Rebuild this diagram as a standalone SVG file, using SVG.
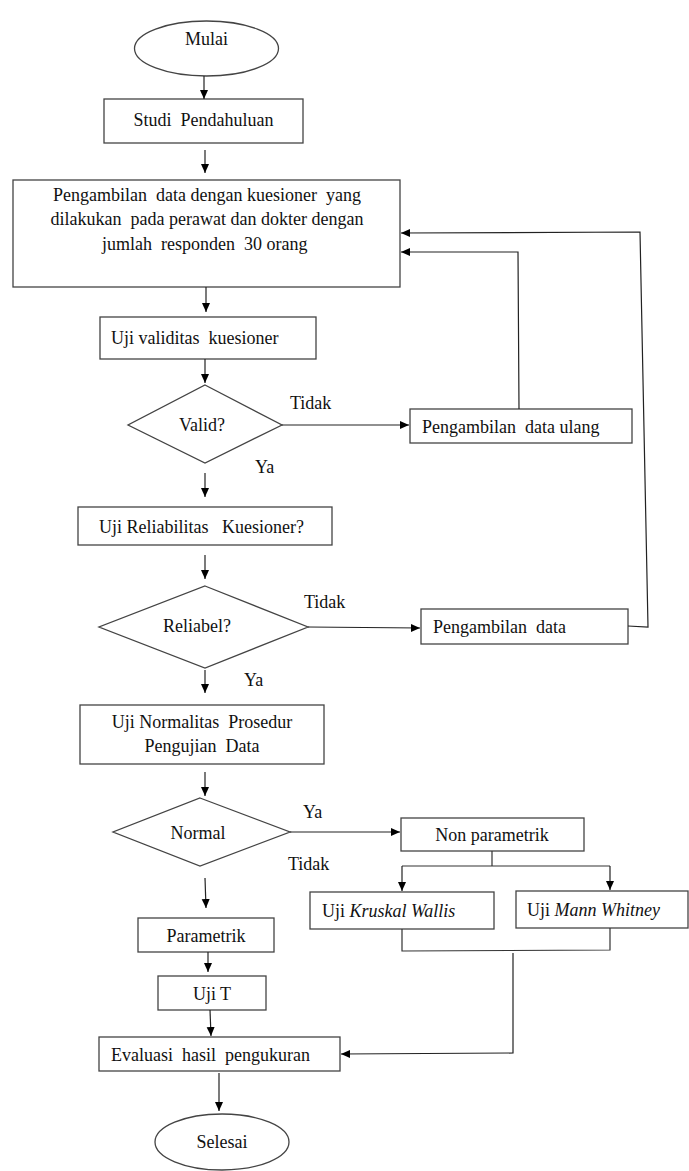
<svg xmlns="http://www.w3.org/2000/svg" width="689" height="1171" viewBox="0 0 689 1171">
<defs>
<marker id="ah" markerWidth="10" markerHeight="10" refX="9" refY="5" orient="auto" markerUnits="userSpaceOnUse">
<path d="M0,1 L9,5 L0,9 Z" fill="#000"/>
</marker>
<style>
.s{fill:#fff;stroke:#444;stroke-width:1.3}
.c{fill:none;stroke:#333;stroke-width:1.2}
.a{fill:none;stroke:#222;stroke-width:1.2;marker-end:url(#ah)}
text{white-space:pre;fill:#111;font-family:"Liberation Serif","DejaVu Serif",serif;font-size:18px}
.m{text-anchor:middle}
</style>
</defs>
<rect width="689" height="1171" fill="#fff"/>
<g id="mulai"><ellipse class="s" cx="206.5" cy="48.5" rx="72" ry="27.5"/><text class="m" x="206.5" y="45">Mulai</text></g>
<g id="studi"><rect class="s" x="104" y="99" width="199" height="44"/><text class="m" x="203.5" y="126">Studi  Pendahuluan</text></g>
<g id="pengambilan"><rect class="s" x="13" y="180" width="387" height="107"/>
<text class="m" x="207" y="201">Pengambilan  data dengan kuesioner  yang</text>
<text class="m" x="207" y="225">dilakukan  pada perawat dan dokter dengan</text>
<text x="102" y="250">jumlah  responden  30 orang</text></g>
<g id="validitas"><rect class="s" x="100" y="317" width="216" height="42"/><text x="111" y="344">Uji validitas  kuesioner</text></g>
<g id="valid"><polygon class="s" points="205,385 282,425 205,463 128,425"/><text class="m" x="202" y="431">Valid?</text></g>
<g id="ulang"><rect class="s" x="410" y="409" width="222" height="34"/><text x="422" y="433">Pengambilan  data ulang</text></g>
<g id="reliabilitas"><rect class="s" x="78" y="507" width="254" height="38"/><text x="99" y="533">Uji Reliabilitas   Kuesioner?</text></g>
<g id="reliabel"><polygon class="s" points="205,586 308,627 205,668 99,627"/><text class="m" x="197" y="632">Reliabel?</text></g>
<g id="pengambilan2"><rect class="s" x="421" y="609" width="207" height="35"/><text x="433" y="633">Pengambilan  data</text></g>
<g id="normalitas"><rect class="s" x="80" y="705" width="244" height="59"/>
<text class="m" x="202" y="728">Uji Normalitas  Prosedur</text>
<text class="m" x="202" y="752">Pengujian  Data</text></g>
<g id="normal"><polygon class="s" points="200,798 290,832 200,866 113,832"/><text class="m" x="198" y="839">Normal</text></g>
<g id="nonparam"><rect class="s" x="401" y="818" width="183" height="33"/><text class="m" x="492" y="841">Non parametrik</text></g>
<g id="kruskal"><rect class="s" x="310" y="892" width="184" height="37"/><text x="322" y="917">Uji <tspan font-style="italic">Kruskal Wallis</tspan></text></g>
<g id="mann"><rect class="s" x="516" y="891" width="172" height="37"/><text x="527" y="916">Uji <tspan font-style="italic">Mann Whitney</tspan></text></g>
<g id="parametrik"><rect class="s" x="138" y="918" width="136" height="34"/><text class="m" x="206" y="942">Parametrik</text></g>
<g id="ujit"><rect class="s" x="158" y="976" width="108" height="34"/><text class="m" x="212" y="1000">Uji T</text></g>
<g id="evaluasi"><rect class="s" x="99" y="1037" width="241" height="34"/><text x="111" y="1061">Evaluasi  hasil  pengukuran</text></g>
<g id="selesai"><ellipse class="s" cx="222" cy="1142" rx="67" ry="28"/><text class="m" x="222" y="1148">Selesai</text></g>
<g id="labels">
<text x="290" y="409">Tidak</text>
<text x="255" y="473">Ya</text>
<text x="304" y="608">Tidak</text>
<text x="244" y="686">Ya</text>
<text x="303" y="818">Ya</text>
<text x="288" y="870">Tidak</text>
</g>
<g id="connectors">
<line class="a" x1="204" y1="76" x2="204" y2="99"/>
<line class="a" x1="205" y1="150" x2="205" y2="173"/>
<line class="a" x1="206" y1="287" x2="206" y2="312"/>
<line class="a" x1="205" y1="359" x2="205" y2="383"/>
<line class="a" x1="282" y1="425" x2="409" y2="425"/>
<polyline class="a" points="519,409 518,252 401,252"/>
<line class="a" x1="205" y1="473" x2="205" y2="497"/>
<line class="a" x1="205" y1="555" x2="205" y2="579"/>
<line class="a" x1="308" y1="627" x2="420" y2="628"/>
<polyline class="a" points="628,626 648,627 640,232 401,233"/>
<line class="a" x1="205" y1="670" x2="205" y2="693"/>
<line class="a" x1="205" y1="772" x2="205" y2="796"/>
<line class="a" x1="290" y1="832" x2="400" y2="832"/>
<line class="c" x1="492" y1="851" x2="492" y2="866"/>
<line class="c" x1="402" y1="866" x2="610" y2="866"/>
<line class="a" x1="402" y1="866" x2="402" y2="891"/>
<line class="a" x1="610" y1="866" x2="610" y2="890"/>
<polyline class="c" points="402,929 402,951 610,950 610,928"/>
<polyline class="a" points="513,953 513,1053 341,1054"/>
<line class="a" x1="205" y1="878" x2="206" y2="908"/>
<line class="a" x1="208" y1="952" x2="208" y2="972"/>
<line class="a" x1="210" y1="1010" x2="211" y2="1036"/>
<line class="a" x1="219" y1="1073" x2="219" y2="1111"/>
</g>
</svg>
